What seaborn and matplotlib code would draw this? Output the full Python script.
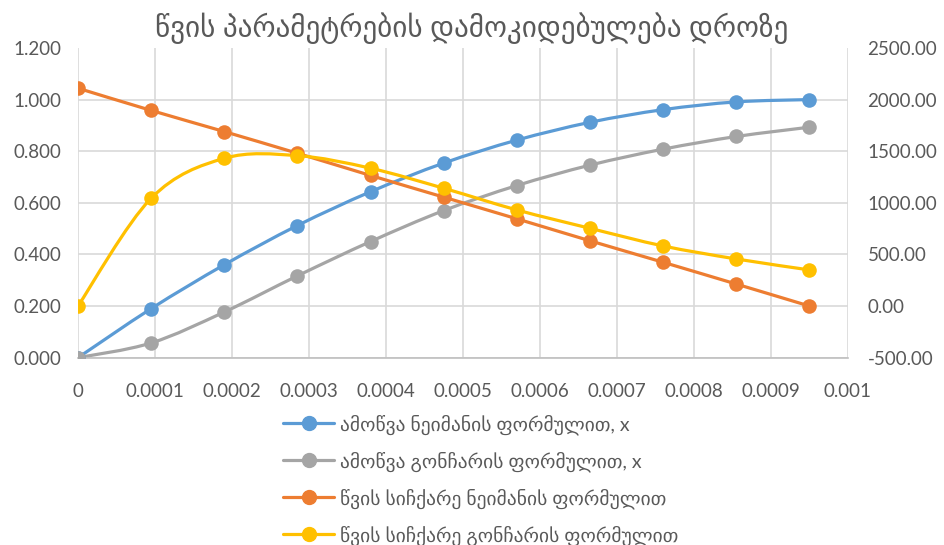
import numpy as np
import seaborn as sns
import matplotlib.pyplot as plt
from matplotlib.path import Path
from matplotlib.patches import PathPatch
from matplotlib.lines import Line2D
from matplotlib.ticker import FormatStrFormatter

# time points (x axis)
t = [0, 0.000095, 0.00019, 0.000285, 0.00038, 0.000475,
     0.00057, 0.000665, 0.00076, 0.000855, 0.00095]

# left axis series
amowva_neiman = [0.000, 0.190, 0.360, 0.512, 0.643, 0.754, 0.843, 0.912, 0.961, 0.991, 1.000]
amowva_gonchar = [0.000, 0.057, 0.177, 0.317, 0.450, 0.570, 0.667, 0.746, 0.808, 0.857, 0.893]

# right axis series
siChqare_neiman = [2110, 1895, 1690, 1480, 1265, 1055, 845, 632, 424, 213, 0]
siChqare_gonchar = [0, 1044, 1431, 1457, 1335, 1141, 931, 753, 582, 456, 350]

# axis ticks
x_ticks = [0, 0.0001, 0.0002, 0.0003, 0.0004, 0.0005, 0.0006, 0.0007, 0.0008, 0.0009, 0.001]
x_ticklabels = ['0', '0.0001', '0.0002', '0.0003', '0.0004', '0.0005',
                '0.0006', '0.0007', '0.0008', '0.0009', '0.001']
left_ticks = [0, 0.2, 0.4, 0.6, 0.8, 1.0, 1.2]
right_ticks = [-500, 0, 500, 1000, 1500, 2000, 2500]

labels = ['ამოწვა ნეიმანის ფორმულით, x',
          'ამოწვა გონჩარის ფორმულით, x',
          'წვის სიჩქარე ნეიმანის ფორმულით',
          'წვის სიჩქარე გონჩარის ფორმულით']
colors = ['#5B9BD5', '#A5A5A5', '#ED7D31', '#FFC000']
title = 'წვის პარამეტრების დამოკიდებულება დროზე'

sns.set_style('white')
plt.rcParams['font.family'] = ['Lato', 'DejaVu Sans']
txt = '#595959'


def smooth_line(ax, x, y, color):
    # excel-like smoothed line: bezier segments through the points
    p = np.column_stack([x, y]).astype(float)
    n = len(p)
    verts = [p[0]]
    codes = [Path.MOVETO]
    for i in range(n - 1):
        p0 = p[max(i - 1, 0)]
        p3 = p[min(i + 2, n - 1)]
        c1 = p[i] + (p[i + 1] - p0) / 6
        c2 = p[i + 1] - (p3 - p[i]) / 6
        verts += [c1, c2, p[i + 1]]
        codes += [Path.CURVE4] * 3
    ax.add_patch(PathPatch(Path(verts, codes), fill=False, edgecolor=color,
                           lw=2.3, capstyle='round', joinstyle='round'))


fig = plt.figure(figsize=(9.44, 5.45), dpi=100)
ax = fig.add_axes([0.0826, 0.3437, 0.8157, 0.5683])
ax2 = ax.twinx()

for a, ys, c in [(ax, amowva_neiman, colors[0]), (ax, amowva_gonchar, colors[1]),
                 (ax2, siChqare_neiman, colors[2]), (ax2, siChqare_gonchar, colors[3])]:
    smooth_line(a, t, ys, c)
    sns.scatterplot(x=t, y=ys, ax=a, color=c, s=110, linewidth=0, zorder=3)

ax.set_xlim(0, 0.001)
ax.set_ylim(0, 1.2)
ax2.set_ylim(-500, 2500)
ax.set_xticks(x_ticks)
ax.set_xticklabels(x_ticklabels)
ax.set_yticks(left_ticks)
ax2.set_yticks(right_ticks)
ax.yaxis.set_major_formatter(FormatStrFormatter('%.3f'))
ax2.yaxis.set_major_formatter(FormatStrFormatter('%.2f'))

ax.grid(True, color='#D9D9D9', lw=1.2)
ax.set_axisbelow(True)
ax.yaxis.get_gridlines()[-1].set_visible(False)
for a in (ax, ax2):
    for s in a.spines.values():
        s.set_visible(False)
    a.tick_params(length=0, labelsize=13.5, labelcolor=txt)
ax.spines['bottom'].set_visible(True)
ax.spines['bottom'].set_color('#BFBFBF')
ax.spines['bottom'].set_linewidth(1.2)
ax.tick_params(axis='x', pad=18)
ax.tick_params(axis='y', pad=12)
ax2.tick_params(axis='y', pad=14)
ax2.set_zorder(ax.get_zorder() + 1)

fig.text(0.5, 0.948, title, ha='center', va='center', fontsize=21, color=txt)

handles = [Line2D([], [], color=c, lw=2.3, marker='o', markersize=10) for c in colors]
fig.legend(handles, labels, loc='upper left', bbox_to_anchor=(0.29, 0.258),
           frameon=False, fontsize=14, labelcolor=txt, handlelength=2.6,
           labelspacing=0.85, handletextpad=0.3, borderpad=0)

fig.savefig('out.png', dpi=100)
